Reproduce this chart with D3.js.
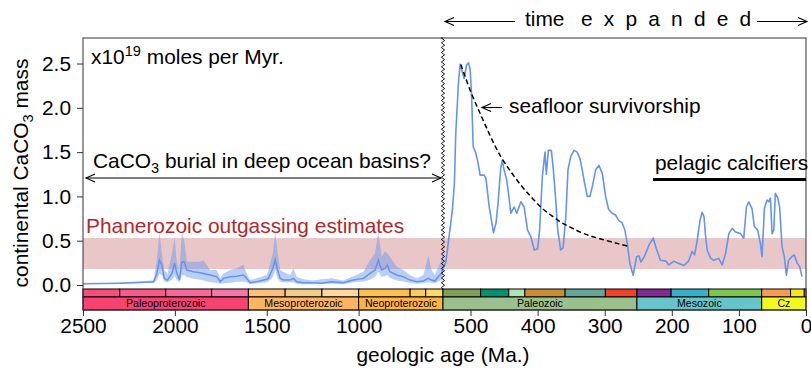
<!DOCTYPE html>
<html>
<head>
<meta charset="utf-8">
<script src="https://cdn.jsdelivr.net/npm/d3@7"></script>
<style>
  body { margin: 0; background: #fff; }
  svg { display: block; font-family: "Liberation Sans", Arial, Helvetica, sans-serif; }
</style>
</head>
<body>
<svg id="chart"></svg>
<script>
// Precambrian reconstruction: median and uncertainty envelope (x10^19 mol/Myr)
const precAge = [2500,2400,2300,2200,2130,2116,2098,2084,2071,2058,2040,2016,2002,1989,1975,1962,1949,1935,1899,1862,
  1844,1808,1772,1754,1736,1700,1663,1627,1609,1591,1554,1500,1491,1467,1454,1441,1427,1410,1373,1355,
  1337,1301,1247,1202,1147,1084,1029,974,938,911,893,875,857,844,830,793,757,721,685,648,621,603,585,567,549,541]
const precMed = [0.015,0.018,0.02,0.028,0.035,0.037,0.13,0.28,0.226,0.075,0.056,0.13,0.245,0.13,0.056,0.263,0.263,0.169,0.15,0.139,
  0.13,0.113,0.094,0.037,0.075,0.094,0.1,0.113,0.075,0.026,0.037,0.064,0.075,0.188,0.282,0.169,0.075,0.056,0.056,0.075,
  0.037,0.026,0.026,0.019,0.037,0.026,0.056,0.075,0.132,0.169,0.282,0.169,0.188,0.226,0.15,0.113,0.094,0.056,0.037,0.045,0.075,0.056,0.045,0.094,0.132,0.2]
const precLo = [0.012,0.014,0.015,0.02,0.025,0.02,0.056,0.13,0.11,0.04,0.03,0.06,0.1,0.056,0.03,0.113,0.113,0.09,0.07,0.06,
  0.05,0.03,0.026,0.011,0.02,0.026,0.037,0.037,0.03,0.011,0.019,0.03,0.04,0.09,0.169,0.075,0.037,0.03,0.03,0.03,
  0.015,0.01,0.01,0.008,0.015,0.01,0.03,0.04,0.06,0.094,0.15,0.094,0.1,0.113,0.08,0.05,0.04,0.026,0.015,0.02,0.03,0.026,0.02,0.04,0.06,0.1]
const precHi = [0.02,0.024,0.03,0.04,0.05,0.056,0.28,0.6,0.357,0.17,0.13,0.357,0.55,0.245,0.17,0.6,0.5,0.263,0.263,0.263,
  0.28,0.17,0.169,0.075,0.13,0.169,0.188,0.23,0.13,0.056,0.075,0.113,0.169,0.357,0.6,0.357,0.169,0.15,0.113,0.188,
  0.094,0.064,0.05,0.064,0.075,0.05,0.1,0.15,0.282,0.357,0.6,0.32,0.38,0.357,0.32,0.207,0.169,0.113,0.075,0.113,0.33,0.169,0.113,0.207,0.282,0.35]

// Phanerozoic continental CaCO3 mass
const phanAge = [541,537,532,527,524,522,518,515.5,512,509.5,506,503,500.5,498.5,496,492,488.6,485.7,479.7,477,
  472,465.8,462,459,455,452.6,450,446,442.5,440,435,431,425,420,415,410,405,400,397,393,
  389,387,384,379.5,376.5,373,370,365.6,362,358,354.7,350.7,345.8,341,337,333.5,330,326,322,318.5,
  313.5,308.6,303.6,298.7,294,289,283.8,279,274,270,266.4,262.5,257.6,252.5,249,246,241,234,227.7,223,
  217,209,204.4,197,192,182,175,169.6,166,162,158,154.8,152,150,147.3,142,137.5,130,125,120,
  115,110,105.6,97.8,92.8,88.8,85.4,80.4,77,72,68,65.5,62,58,55.6,53,50.6,48,45.7,42,
  39.3,35.7,32.3,29.3,26,21,17.4,13.5,9.5,6]
const phanVal = [0.2,0.245,0.545,0.85,1.15,1.71,2.28,2.49,2.40,2.33,2.48,2.51,2.43,2.16,1.56,1.49,1.37,1.24,1.24,1.20,
  0.88,0.59,0.70,0.92,1.32,1.41,1.30,1.185,0.98,0.81,0.88,0.81,0.94,0.88,0.62,0.545,0.395,0.41,0.62,1.22,
  1.50,1.25,1.52,1.52,1.30,0.96,0.62,0.395,0.42,0.77,1.30,1.45,1.52,1.50,1.43,1.30,1.15,1.00,1.00,1.11,
  1.30,1.35,1.26,1.00,0.85,0.81,0.79,0.73,0.70,0.62,0.47,0.245,0.11,0.32,0.33,0.26,0.32,0.45,0.53,0.41,
  0.28,0.27,0.226,0.27,0.25,0.22,0.27,0.38,0.34,0.51,0.73,0.82,0.77,0.58,0.395,0.30,0.28,0.30,0.226,0.35,
  0.58,0.64,0.60,0.58,0.527,0.88,0.94,0.86,0.66,0.62,0.47,0.32,0.866,0.96,0.94,0.98,0.58,0.62,1.035,0.98,
  0.88,0.43,0.32,0.11,0.28,0.32,0.34,0.25,0.21,0.094]

// seafloor survivorship curve (dashed)
const survAge = [514.4,499.6,484.7,469.8,454.9,440,425.2,410.3,395.4,380.5,365.6,350.7,331,306,281.3,266.4]
const survVal = [2.49,2.18,1.92,1.67,1.45,1.28,1.13,1.00,0.88,0.79,0.71,0.65,0.58,0.52,0.47,0.44]

// Phanerozoic outgassing estimates (range)
const outgasRange = [0.18, 0.53]

// geologic time scale
const eras = [
  {name: 'Paleoproterozoic', label: 'Paleoproterozoic', start: 2500, end: 1600},
  {name: 'Mesoproterozoic', label: 'Mesoproterozoic', start: 1600, end: 1000},
  {name: 'Neoproterozoic', label: 'Neoproterozoic', start: 1000, end: 541},
  {name: 'Paleozoic', label: 'Paleozoic', start: 541, end: 252},
  {name: 'Mesozoic', label: 'Mesozoic', start: 252, end: 66},
  {name: 'Cenozoic', label: 'Cz', start: 66, end: 0}
]
const periods = [
  {name: 'Siderian', start: 2500, end: 2300}, {name: 'Rhyacian', start: 2300, end: 2050},
  {name: 'Orosirian', start: 2050, end: 1800}, {name: 'Statherian', start: 1800, end: 1600},
  {name: 'Calymmian', start: 1600, end: 1400}, {name: 'Ectasian', start: 1400, end: 1200},
  {name: 'Stenian', start: 1200, end: 1000}, {name: 'Tonian', start: 1000, end: 720},
  {name: 'Cryogenian', start: 720, end: 635}, {name: 'Ediacaran', start: 635, end: 541},
  {name: 'Cambrian', start: 541, end: 485}, {name: 'Ordovician', start: 485, end: 443},
  {name: 'Silurian', start: 443, end: 419}, {name: 'Devonian', start: 419, end: 359},
  {name: 'Carboniferous', start: 359, end: 299}, {name: 'Permian', start: 299, end: 252},
  {name: 'Triassic', start: 252, end: 201}, {name: 'Jurassic', start: 201, end: 145},
  {name: 'Cretaceous', start: 145, end: 66}, {name: 'Paleogene', start: 66, end: 23},
  {name: 'Neogene', start: 23, end: 2.58}, {name: 'Quaternary', start: 2.58, end: 0}
]
const xTicks = [2500, 2000, 1500, 1000, 500, 400, 300, 200, 100, 0]
const yTicks = [0, 0.5, 1, 1.5, 2, 2.5]

// ICS colours
const gtsColor = {
  Paleoproterozoic: '#F74370', Mesoproterozoic: '#FDB462', Neoproterozoic: '#FEB342',
  Paleozoic: '#99C08D', Mesozoic: '#67C5CA', Cenozoic: '#F2F91D',
  Siderian: '#F74F7C', Rhyacian: '#F75B89', Orosirian: '#F76898', Statherian: '#F875A7',
  Calymmian: '#FDC07A', Ectasian: '#F3CC8A', Stenian: '#FED99A',
  Tonian: '#FEBF4E', Cryogenian: '#FECC5C', Ediacaran: '#FED96A',
  Cambrian: '#7FA056', Ordovician: '#009270', Silurian: '#B3E1B6', Devonian: '#CB8C37',
  Carboniferous: '#67A599', Permian: '#F04028', Triassic: '#812B92', Jurassic: '#34B2C9',
  Cretaceous: '#7FC64E', Paleogene: '#FD9A52', Neogene: '#FFE619', Quaternary: '#F9F97F'
}

const blue = '#6495ED'
const fs = 20.9, fsSub = 14.6
const margin = {top: 38, right: 5, bottom: 61, left: 83}
const width = 811 - margin.left - margin.right
const height = 371 - margin.top - margin.bottom

const svg = d3.select('#chart').attr('width', 811).attr('height', 371)
const g = svg.append('g').attr('transform', `translate(${margin.left},${margin.top})`)

// broken time axis: Precambrian compressed, Phanerozoic expanded
const x = d3.scaleLinear().domain([2500, 541, 0]).range([0, 360, width])
const y = d3.scaleLinear().domain([-0.282, 2.788]).range([height, 0])

// outgassing band
g.append('rect')
  .attr('x', x(2500)).attr('width', x(0) - x(2500))
  .attr('y', y(outgasRange[1])).attr('height', y(outgasRange[0]) - y(outgasRange[1]))
  .attr('fill', '#E9C6C7')

const prec = precAge.map((a, i) => ({age: a, med: precMed[i], lo: precLo[i], hi: precHi[i]}))
const phan = phanAge.map((a, i) => ({age: a, v: phanVal[i]}))
const surv = survAge.map((a, i) => ({age: a, v: survVal[i]}))

g.append('path').datum(prec)
  .attr('d', d3.area().x(d => x(d.age)).y0(d => y(d.lo)).y1(d => y(d.hi)))
  .attr('fill', blue).attr('fill-opacity', 0.45)

g.append('path').datum(prec)
  .attr('d', d3.line().x(d => x(d.age)).y(d => y(d.med)))
  .attr('fill', 'none').attr('stroke', blue).attr('stroke-width', 1.5)

g.append('path').datum(phan)
  .attr('d', d3.line().x(d => x(d.age)).y(d => y(d.v)))
  .attr('fill', 'none').attr('stroke', blue).attr('stroke-width', 1.6).attr('stroke-linejoin', 'round')

g.append('path').datum(surv)
  .attr('d', d3.line().x(d => x(d.age)).y(d => y(d.v)).curve(d3.curveCatmullRom))
  .attr('fill', 'none').attr('stroke', '#000').attr('stroke-width', 1.5).attr('stroke-dasharray', '5,3')

// time scale bars
const pTop = y(-0.045), pBot = y(-0.135), eBot = height
g.append('g').selectAll('rect').data(periods).join('rect')
  .attr('x', d => x(d.start)).attr('width', d => x(d.end) - x(d.start))
  .attr('y', pTop).attr('height', pBot - pTop)
  .attr('fill', d => gtsColor[d.name]).attr('stroke', '#000').attr('stroke-width', 1)
const eg = g.append('g')
eg.selectAll('rect').data(eras).join('rect')
  .attr('x', d => x(d.start)).attr('width', d => x(d.end) - x(d.start))
  .attr('y', pBot).attr('height', eBot - pBot)
  .attr('fill', d => gtsColor[d.name]).attr('stroke', '#000').attr('stroke-width', 1)
eg.selectAll('text').data(eras).join('text')
  .attr('x', d => (x(d.start) + x(d.end)) / 2).attr('y', (pBot + eBot) / 2 + 3.8)
  .attr('text-anchor', 'middle').attr('font-size', 10.6).attr('fill', '#000')
  .text(d => d.label)

// frame
g.append('rect').attr('width', width).attr('height', height)
  .attr('fill', 'none').attr('stroke', '#333').attr('stroke-width', 1)

// zigzag axis break
const zx = x(541)
let zz = `M${zx},0`
for (let yy = 0, k = 0; yy < pTop; yy += 2.4, k++) zz += `L${zx + (k % 2 ? 1.6 : -1.6)},${yy}`
zz += `L${zx},${pTop}`
g.append('path').attr('d', zz).attr('fill', 'none').attr('stroke', '#000').attr('stroke-width', 0.9)

// axes
const xAxis = g.append('g').attr('transform', `translate(0,${height})`)
  .call(d3.axisBottom(x).tickValues(xTicks).tickFormat(d3.format('d')).tickSize(6).tickPadding(2))
const yAxis = g.append('g')
  .call(d3.axisLeft(y).tickValues(yTicks).tickFormat(d3.format('.1f')).tickSize(6).tickPadding(6))
;[xAxis, yAxis].forEach(a => {
  a.select('.domain').remove()
  a.selectAll('text').attr('font-size', fs).attr('font-family', '"Liberation Sans", Arial, sans-serif').attr('fill', '#000')
  a.selectAll('line').attr('stroke', '#333')
})

// labels
svg.append('text').attr('x', 443).attr('y', 362).attr('text-anchor', 'middle')
  .attr('font-size', fs).text('geologic age (Ma.)')
const yl = svg.append('text').attr('transform', 'translate(28,173) rotate(-90)')
  .attr('text-anchor', 'middle').attr('font-size', fs)
yl.append('tspan').text('continental CaCO')
yl.append('tspan').attr('font-size', fsSub).attr('dy', 5).text('3')
yl.append('tspan').attr('dy', -5).text(' mass')

const units = svg.append('text').attr('x', 91).attr('y', 64).attr('font-size', fs)
units.append('tspan').text('x10')
units.append('tspan').attr('font-size', fsSub).attr('dy', -8).text('19')
units.append('tspan').attr('dy', 8).text(' moles per Myr.')

svg.append('text').attr('x', 86).attr('y', 233).attr('font-size', fs).attr('fill', '#B5262C')
  .text('Phanerozoic outgassing estimates')

const cb = svg.append('text').attr('x', 93).attr('y', 168).attr('font-size', fs)
cb.append('tspan').text('CaCO')
cb.append('tspan').attr('font-size', fsSub).attr('dy', 5).text('3')
cb.append('tspan').attr('dy', -5).text(' burial in deep ocean basins?')

svg.append('text').attr('x', 655).attr('y', 170).attr('font-size', fs).text('pelagic calcifiers')
svg.append('line').attr('x1', 653).attr('x2', 806).attr('y1', 179.5).attr('y2', 179.5)
  .attr('stroke', '#000').attr('stroke-width', 3)

svg.append('text').attr('x', 509).attr('y', 113).attr('font-size', fs).text('seafloor survivorship')

const te = svg.append('text').attr('y', 26).attr('font-size', fs)
te.append('tspan').attr('x', 525).text('time')
te.append('tspan').attr('x', 581).attr('letter-spacing', 11.2).text('expanded')

// arrows (open chevron heads)
function arrow(x1, y1, x2, y2, both) {
  const a = svg.append('g').attr('stroke', '#000').attr('stroke-width', 1.1).attr('fill', 'none')
  a.append('line').attr('x1', x1).attr('y1', y1).attr('x2', x2).attr('y2', y2)
  const head = (hx, hy, fx, fy) => {
    const ang = Math.atan2(hy - fy, hx - fx), L = 9, W = 4
    const bx = hx - L * Math.cos(ang), by = hy - L * Math.sin(ang)
    const px = -Math.sin(ang) * W, py = Math.cos(ang) * W
    a.append('path').attr('d', `M${bx + px},${by + py}L${hx},${hy}L${bx - px},${by - py}`)
  }
  head(x2, y2, x1, y1)
  if (both) head(x1, y1, x2, y2)
}
arrow(515, 21.5, 445, 21.5, false)
arrow(757, 21.5, 807, 21.5, false)
arrow(502, 107.5, 482, 107.5, false)
arrow(86, 178, 441, 178, true)
</script>
</body>
</html>
